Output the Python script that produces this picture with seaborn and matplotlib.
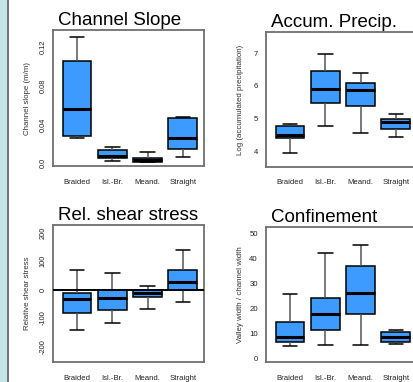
import numpy as np
import pandas as pd
import matplotlib.pyplot as plt
from matplotlib.patches import Rectangle
import seaborn as sns

# categorias del eje x
categories = ["Braided", "Isl.-Br.", "Meand.", "Straight"]

# cinco numeros por caja: bigote inf., Q1, mediana, Q3, bigote sup.
slope = [[0.026, 0.028, 0.056, 0.1055, 0.130],
         [0.002, 0.005, 0.0072, 0.0134, 0.0165],
         [0.001, 0.0012, 0.003, 0.005, 0.011],
         [0.006, 0.0145, 0.026, 0.0466, 0.0475]]
precip = [[3.97, 4.41, 4.51, 4.78, 4.86],
          [4.78, 5.47, 5.91, 6.46, 6.97],
          [4.58, 5.39, 5.88, 6.08, 6.39],
          [4.44, 4.68, 4.90, 5.00, 5.15]]
shear = [[-143, -82, -35, -12, 68],
         [-118, -71, -29, -2, 59],
         [-69, -28, -11, 0, 13],
         [-44, -2, 27, 68, 139]]
confinement = [[5.3, 6.7, 8.7, 14.7, 25.9],
               [5.4, 11.6, 18.0, 24.3, 42.1],
               [5.4, 17.9, 26.1, 37.0, 45.6],
               [5.8, 6.7, 8.7, 10.8, 11.4]]

slope_ticks = [0, 0.04, 0.08, 0.12]
slope_ticklabels = ["0.0", "0.04", "0.08", "0.12"]
precip_ticks = [4, 5, 6, 7]
shear_ticks = [-200, -100, 0, 100, 200]
conf_ticks = [0, 10, 20, 30, 40, 50]

sns.set_style("white")
plt.rcParams["font.family"] = ["Liberation Sans", "DejaVu Sans"]

W, H = 414, 382
fig = plt.figure(figsize=(W / 100, H / 100), dpi=100)

# franja azul a la izquierda
fig.add_artist(Rectangle((0, 0), 7.3 / W, 1, transform=fig.transFigure,
                         facecolor="#c6e4e6", edgecolor="none"))
fig.add_artist(Rectangle((7.3 / W, 0), 1.4 / W, 1, transform=fig.transFigure,
                         facecolor="#6d7a7a", edgecolor="none"))


def to_long(values):
    rows = []
    for cat, vals in zip(categories, values):
        for v in vals:
            rows.append({"cat": cat, "val": v})
    return pd.DataFrame(rows)


def panel(rect, values, title, ylabel, ylim, ticks, ticklabels, rotate):
    left, top, bottom = rect
    ax = fig.add_axes([left / W, 1 - bottom / H, 151 / W, (bottom - top) / H])
    sns.boxplot(data=to_long(values), x="cat", y="val", order=categories,
                color="#3d9bff", saturation=1, width=0.82, whis=(0, 100),
                linecolor="black", linewidth=1.1,
                whiskerprops={"color": "#555555", "linewidth": 1.1},
                capprops={"color": "black", "linewidth": 1.1},
                medianprops={"color": "black", "linewidth": 2.2},
                ax=ax)
    ax.set_xlim(-0.68, 3.6)
    ax.set_ylim(*ylim)
    ax.set_yticks(ticks)
    ax.set_yticklabels(ticklabels if ticklabels else [str(t) for t in ticks])
    ax.set_xlabel("")
    ax.set_ylabel(ylabel, fontsize=5.7, color="#333333")
    ax.yaxis.set_label_coords(-0.145, 0.5)
    ax.tick_params(axis="x", length=0, pad=9, labelsize=5.6, colors="#222222")
    if rotate:
        ax.tick_params(axis="y", length=0, pad=4.5, labelsize=5.3, colors="#222222")
        for lab in ax.get_yticklabels():
            lab.set_rotation(90)
            lab.set_va("center")
    else:
        ax.tick_params(axis="y", length=0, pad=5.8, labelsize=5.6, colors="#222222")
    for sp in ax.spines.values():
        sp.set_color("#707070")
        sp.set_linewidth(1.3)
    # titulo alineado a la izquierda, un poco por encima del marco
    ax.text(0.03, 1.0 + 5 / (bottom - top), title, transform=ax.transAxes,
            fontsize=13.5, ha="left", va="baseline", color="black")
    return ax


panel((53, 30, 166), slope, "Channel Slope", "Channel slope (m/m)",
      (-0.003, 0.1376), slope_ticks, slope_ticklabels, True)
panel((266, 32, 167), precip, "Accum. Precip.", "Log (accumulated precipitation)",
      (3.54, 7.64), precip_ticks, None, False)
ax3 = panel((53, 225, 362), shear, "Rel. shear stress", "Relative shear stress",
            (-255, 227), shear_ticks, None, True)
ax3.axhline(0, color="black", linewidth=1.4, zorder=5)
panel((266, 227, 362), confinement, "Confinement", "Valley width / channel width",
      (-1.2, 52.6), conf_ticks, None, False)

fig.savefig("out.png", dpi=100)
